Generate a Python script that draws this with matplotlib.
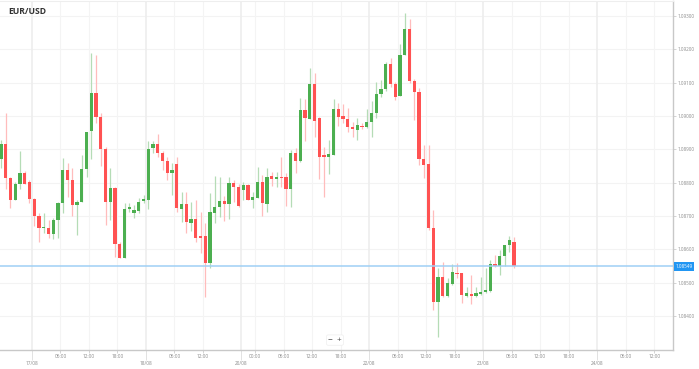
import numpy as np
import matplotlib
matplotlib.use("Agg")
import matplotlib.pyplot as plt
import matplotlib.transforms as mtransforms

# ---- hourly EUR/USD candles ----
opens = [1.08872, 1.08915, 1.08815, 1.08749, 1.08796, 1.08829, 1.08801, 1.08752, 1.08700, 1.08665,
         1.08665, 1.08646, 1.08689, 1.08740, 1.08839, 1.08809, 1.08732, 1.08743, 1.08840, 1.08954,
         1.09068, 1.08997, 1.08900, 1.08741, 1.08785, 1.08617, 1.08575, 1.08720, 1.08708, 1.08716,
         1.08745, 1.08748, 1.08903, 1.08915, 1.08890, 1.08865, 1.08830, 1.08855, 1.08721, 1.08735,
         1.08680, 1.08690, 1.08639, 1.08639, 1.08560, 1.08710, 1.08726, 1.08746, 1.08736, 1.08800,
         1.08788, 1.08778, 1.08792, 1.08748, 1.08753, 1.08803, 1.08736, 1.08819, 1.08810, 1.08816,
         1.08816, 1.08780, 1.08890, 1.08865, 1.09018, 1.08990, 1.09096, 1.08993, 1.08882, 1.08878,
         1.08882, 1.09020, 1.09000, 1.08990, 1.08968, 1.08958, 1.08970, 1.08966, 1.08981, 1.09008,
         1.09066, 1.09080, 1.09156, 1.09096, 1.09061, 1.09183, 1.09260, 1.09105, 1.09073, 1.08870,
         1.08855, 1.08665, 1.08443, 1.08516, 1.08460, 1.08496, 1.08530, 1.08529, 1.08460, 1.08467,
         1.08460, 1.08465, 1.08471, 1.08476, 1.08556, 1.08550, 1.08580, 1.08612, 1.08623]
highs = [1.08928, 1.09010, 1.08817, 1.08803, 1.08896, 1.08835, 1.08808, 1.08754, 1.08708, 1.08708,
         1.08688, 1.08694, 1.08742, 1.08875, 1.08860, 1.08843, 1.08748, 1.08883, 1.08953, 1.09190,
         1.09184, 1.09008, 1.08908, 1.08843, 1.08787, 1.08623, 1.08738, 1.08740, 1.08733, 1.08753,
         1.08763, 1.08926, 1.08924, 1.08945, 1.08896, 1.08878, 1.08858, 1.08878, 1.08773, 1.08773,
         1.08743, 1.08748, 1.08713, 1.08678, 1.08768, 1.08820, 1.08818, 1.08760, 1.08818, 1.08808,
         1.08796, 1.08803, 1.08795, 1.08773, 1.08846, 1.08823, 1.08843, 1.08833, 1.08833, 1.08878,
         1.08830, 1.08898, 1.08903, 1.09053, 1.09050, 1.09143, 1.09128, 1.08998, 1.08908, 1.08928,
         1.09050, 1.09040, 1.09036, 1.09023, 1.08983, 1.08993, 1.08978, 1.09020, 1.09045, 1.09103,
         1.09108, 1.09163, 1.09173, 1.09103, 1.09216, 1.09308, 1.09290, 1.09110, 1.09083, 1.08913,
         1.08913, 1.08718, 1.08545, 1.08563, 1.08513, 1.08556, 1.08560, 1.08530, 1.08488, 1.08523,
         1.08488, 1.08518, 1.08543, 1.08568, 1.08583, 1.08598, 1.08614, 1.08640, 1.08638]
lows = [1.08844, 1.08781, 1.08724, 1.08748, 1.08780, 1.08795, 1.08738, 1.08671, 1.08623, 1.08648,
        1.08633, 1.08631, 1.08633, 1.08708, 1.08758, 1.08701, 1.08644, 1.08743, 1.08818, 1.08871,
        1.08978, 1.08850, 1.08673, 1.08688, 1.08578, 1.08573, 1.08575, 1.08713, 1.08693, 1.08710,
        1.08738, 1.08720, 1.08888, 1.08878, 1.08838, 1.08808, 1.08763, 1.08713, 1.08683, 1.08648,
        1.08655, 1.08623, 1.08588, 1.08458, 1.08543, 1.08680, 1.08698, 1.08686, 1.08690, 1.08743,
        1.08728, 1.08748, 1.08748, 1.08723, 1.08753, 1.08700, 1.08713, 1.08790, 1.08788, 1.08786,
        1.08730, 1.08728, 1.08830, 1.08863, 1.08925, 1.08990, 1.08938, 1.08810, 1.08758, 1.08825,
        1.08882, 1.08970, 1.08980, 1.08953, 1.08938, 1.08928, 1.08960, 1.08963, 1.08938, 1.08993,
        1.09058, 1.09076, 1.09088, 1.09048, 1.09060, 1.09183, 1.09098, 1.08988, 1.08853, 1.08813,
        1.08658, 1.08418, 1.08336, 1.08458, 1.08458, 1.08493, 1.08513, 1.08440, 1.08458, 1.08436,
        1.08458, 1.08463, 1.08470, 1.08473, 1.08548, 1.08523, 1.08550, 1.08593, 1.08543]
closes = [1.08916, 1.08815, 1.08749, 1.08796, 1.08829, 1.08796, 1.08750, 1.08700, 1.08664, 1.08667,
          1.08646, 1.08689, 1.08740, 1.08839, 1.08809, 1.08734, 1.08743, 1.08840, 1.08951, 1.09068,
          1.08997, 1.08900, 1.08741, 1.08785, 1.08617, 1.08575, 1.08722, 1.08726, 1.08718, 1.08743,
          1.08750, 1.08901, 1.08915, 1.08890, 1.08865, 1.08828, 1.08838, 1.08723, 1.08735, 1.08681,
          1.08690, 1.08633, 1.08635, 1.08560, 1.08713, 1.08728, 1.08746, 1.08736, 1.08798, 1.08786,
          1.08730, 1.08793, 1.08748, 1.08756, 1.08803, 1.08738, 1.08818, 1.08810, 1.08817, 1.08814,
          1.08780, 1.08890, 1.08865, 1.09018, 1.08993, 1.09096, 1.08986, 1.08876, 1.08878, 1.08885,
          1.09020, 1.08998, 1.08990, 1.08966, 1.08962, 1.08972, 1.08966, 1.08983, 1.09008, 1.09065,
          1.09082, 1.09156, 1.09096, 1.09056, 1.09183, 1.09260, 1.09105, 1.09073, 1.08870, 1.08853,
          1.08665, 1.08443, 1.08516, 1.08460, 1.08500, 1.08531, 1.08527, 1.08462, 1.08468, 1.08460,
          1.08468, 1.08471, 1.08478, 1.08556, 1.08550, 1.08580, 1.08612, 1.08628, 1.08549]

current_price = 1.08549
price_ticks = [1.084, 1.085, 1.086, 1.087, 1.088, 1.089, 1.090, 1.091, 1.092, 1.093]

# time axis labels (candle index of the label, weekend gap removed)
day_pos = [6.5, 30.5, 50.5, 77.5, 101.5, 125.5]
day_labels = ["17/08", "18/08", "20/08", "22/08", "23/08", "24/08"]
hour_pos = [12.5, 18.5, 24.5, 36.5, 42.5, 53.5, 59.5, 65.5, 71.5, 83.5, 89.5, 95.5,
            107.5, 113.5, 119.5, 131.5, 137.5]
hour_labels = ["06:00", "12:00", "18:00", "06:00", "12:00", "00:00", "06:00", "12:00", "18:00",
               "06:00", "12:00", "18:00", "06:00", "12:00", "18:00", "06:00", "12:00"]

GREEN, RED = "#4caf50", "#ff5252"
GREEN_WICK, RED_WICK = "#b5dcb6", "#ffbcbc"

plt.rcParams['font.family'] = ['Open Sans', 'DejaVu Sans']

fig = plt.figure(figsize=(6.99, 3.69), dpi=100)
ax = fig.add_axes([0, 1 - 349.5 / 369, 672.7 / 699, 348.5 / 369])

o = np.array(opens); h = np.array(highs); l = np.array(lows); c = np.array(closes)
idx = np.arange(len(o))
up = c >= o

ax.vlines(idx, l, h, colors=np.where(up, GREEN_WICK, RED_WICK), linewidth=0.9, zorder=2)   # wicks
body_lo = np.minimum(o, c)
body_h = np.maximum(np.abs(c - o), 0.00002)                                                 # keep dojis visible
ax.bar(idx, body_h, bottom=body_lo, width=0.66, color=np.where(up, GREEN, RED),
       linewidth=0, zorder=3)

ax.axhline(current_price, color="#9fd0f5", linewidth=1.1, zorder=4)                        # current price line

ax.set_xlim(-0.21, 141.4)
ax.set_ylim(1.08300, 1.09345)

# grid
for y in price_ticks:
    ax.axhline(y, color="#f3f3f3", linewidth=0.8, zorder=0)
for x in hour_pos:
    ax.axvline(x, color="#f4f4f4", linewidth=0.8, zorder=0)
for x in day_pos:
    ax.axvline(x, color="#ededed", linewidth=1.2, zorder=0)

# y axis on the right
ax.yaxis.tick_right()
ax.set_yticks(price_ticks)
ax.set_yticklabels(["%.5f" % p for p in price_ticks])
ax.tick_params(axis="y", length=2, width=0.6, color="#cccccc", pad=1.5,
               labelsize=3.3, labelcolor="#8a8a8a")

# x axis: hours as major, days as minor (lower row)
ax.set_xticks(hour_pos)
ax.set_xticklabels(hour_labels)
ax.set_xticks(day_pos, minor=True)
ax.set_xticklabels(day_labels, minor=True)
ax.tick_params(axis="x", which="major", length=2.5, width=0.6, color="#cccccc", pad=1,
               labelsize=3.4, labelcolor="#8a8a8a")
ax.tick_params(axis="x", which="minor", length=7, width=0.6, color="#dddddd", pad=1.5,
               labelsize=3.4, labelcolor="#8a8a8a")

ax.spines["left"].set_visible(False)
ax.spines["top"].set_color("#eeeeee")
ax.spines["right"].set_color("#c8c8c8")
ax.spines["bottom"].set_color("#c8c8c8")
ax.spines["right"].set_linewidth(1.0)
ax.spines["bottom"].set_linewidth(1.0)

# current price tag on the right axis
trans = mtransforms.blended_transform_factory(ax.transAxes, ax.transData)
ax.text(1.004, current_price, "%.5f" % current_price, transform=trans, ha="left", va="center",
        fontsize=3.3, color="white", clip_on=False, zorder=6,
        bbox=dict(boxstyle="square,pad=0.35", facecolor="#2196f3", edgecolor="none"))

# title and zoom buttons
fig.text(8 / 699, 1 - 12 / 369, "EUR/USD", fontsize=6.2, fontweight="bold", color="#333333",
         ha="left", va="center")
ax.text(0.498, 0.027, "\u2212  +", transform=ax.transAxes, ha="center", va="center",
        fontsize=6, color="#444444", zorder=6,
        bbox=dict(boxstyle="round,pad=0.2", facecolor="white", edgecolor="#eeeeee", linewidth=0.5))

fig.savefig("out.png", dpi=100)
